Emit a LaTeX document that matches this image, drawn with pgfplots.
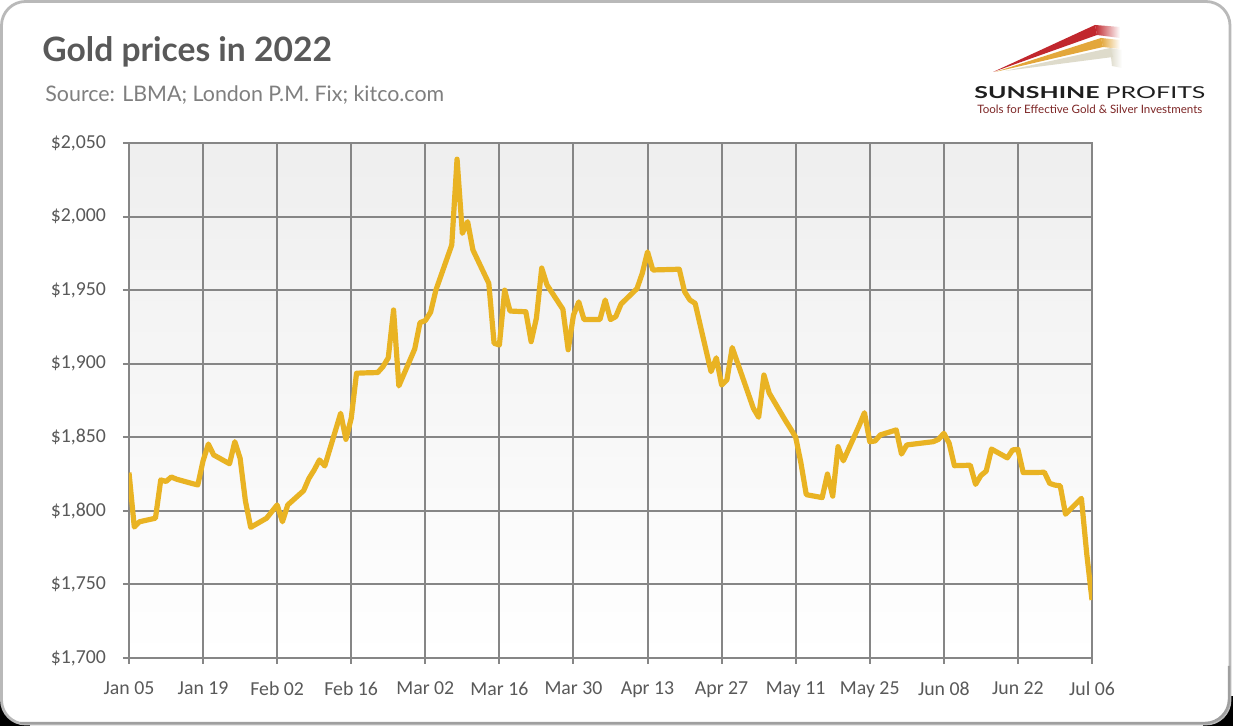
\documentclass[border=0pt]{standalone}
\usepackage{fontspec}
\usepackage{pgfplots}
\usepackage{pgfplotstable}
\pgfplotsset{compat=1.18}
\setmainfont{Lato}
\newfontfamily\calibri{Carlito}
\definecolor{goldline}{RGB}{233,179,35}
\definecolor{gridgray}{RGB}{134,134,134}
\definecolor{labelgray}{RGB}{89,89,89}
\definecolor{subgray}{RGB}{127,127,127}
\definecolor{logored}{RGB}{193,39,45}
\definecolor{logogold}{RGB}{227,167,59}
\definecolor{logogray}{RGB}{222,219,203}
\definecolor{maroon}{RGB}{125,38,38}

\pgfplotstableread{
d p
5 1826
6 1789
7 1792.6
10 1795
11 1821
12 1820
13 1823
14 1821.5
17 1818.5
18 1817.6
19 1834
20 1845.4
21 1838
24 1832
25 1847
26 1835.7
27 1806.7
28 1788.8
31 1795
32 1799.5
33 1804
34 1792.6
35 1804
38 1813.7
39 1822
40 1827.8
41 1834.6
42 1830.5
45 1866.3
46 1848.6
47 1862.9
48 1893.5
49 1893.7
52 1894
53 1898
54 1904
55 1936.5
56 1884.9
59 1910
60 1927.9
61 1929.3
62 1935
63 1950
66 1980.7
67 2039
68 1988.6
69 1996.5
70 1977.3
73 1954.6
74 1913.9
75 1912.7
76 1950
77 1935.8
80 1935.3
81 1915
82 1931
83 1965
84 1953.5
87 1937
88 1909.5
89 1933
90 1942
91 1930
94 1930
95 1943.3
96 1930
97 1932
98 1940.6
101 1951
102 1961.4
103 1976
104 1963.7
109 1964.2
110 1949
111 1943.3
112 1941
115 1894.6
116 1904
117 1885.5
118 1889
119 1911
123 1869.7
124 1863.6
125 1892.3
126 1880
129 1861.7
130 1856
131 1850
132 1832.3
133 1811
136 1809
137 1825
138 1810
139 1843.6
140 1834
143 1858
144 1866.7
145 1847
146 1847.5
147 1851.6
150 1855
151 1838.6
152 1844.8
157 1847
158 1848.6
159 1852.7
160 1846
161 1830.7
164 1831
165 1818
166 1824
167 1827
168 1842
171 1836
172 1841.4
173 1841.8
174 1826
175 1826
178 1826.2
179 1818.7
180 1817.5
181 1817
182 1797.7
185 1808.5
186 1771
187 1739.4
}\golddata

\begin{document}
\begin{tikzpicture}
\begin{scope}[x=0.5pt,y=0.5pt]
  \fill[white] (0,0) rectangle (1233,726);
  \fill[black] (0,0) rectangle (30,30);
  \fill[black] (1203,0) rectangle (1233,30);
  \filldraw[fill=white, draw=gray!55, line width=1.4pt, rounded corners=12pt] (1.5,2) rectangle (1230,724.5);
  \draw[gray!75, line width=1.2pt, rounded corners=12pt] (20,3) -- (1229,3) -- (1229,60);
  % title
  \node[anchor=base west, inner sep=0pt, text=labelgray, font=\fontsize{16.8}{20}\selectfont\bfseries] at (42,664) {Gold prices in 2022};
  \node[anchor=base west, inner sep=0pt, text=subgray, font=\fontsize{10.7}{13}\selectfont] at (45,624) {Source: LBMA; London P.M. Fix; kitco.com};
  % logo swooshes
  \shade[left color=logored, right color=white] (1095,701) -- (1120,699) -- (1120,688) -- (1097,691) -- cycle;
  \fill[logored] (993,654) -- (1095,701) -- (1097,691) -- cycle;
  \shade[left color=logogold, right color=white] (1101,688) -- (1120,686) -- (1120,677) -- (1103,679) -- cycle;
  \fill[logogold] (995,654) -- (1101,688) -- (1103,679) -- cycle;
  \shade[left color=logogray, right color=white] (1110,678) -- (1122,676) -- (1122,658) -- (1112,660) -- cycle;
  \fill[logogray] (1005,655) -- (1110,678) -- (1113,669) -- cycle;
  % logo text
  \node[anchor=base west, inner sep=0pt] at (974,627.3) {\resizebox{115.5pt}{6pt}{\color[RGB]{30,30,30}\bfseries SUNSHINE \mdseries PROFITS}};
  \node[anchor=base west, inner sep=0pt] at (977,612.5) {\resizebox{112.5pt}{!}{\color{maroon}Tools for Effective Gold \& Silver Investments}};
\end{scope}
\begin{axis}[
  at={(64.5pt,34pt)}, anchor=south west,
  scale only axis, width=481.5pt, height=257.5pt,
  xmin=5, xmax=187, ymin=1700, ymax=2050,
  xtick={5,19,33,47,61,75,89,103,117,131,145,159,173,187},
  xticklabels={Jan 05, Jan 19, Feb 02, Feb 16, Mar 02, Mar 16, Mar 30, Apr 13, Apr 27, May 11, May 25, Jun 08, Jun 22, Jul 06},
  ytick={1700,1750,1800,1850,1900,1950,2000,2050},
  yticklabels={{\$1,700},{\$1,750},{\$1,800},{\$1,850},{\$1,900},{\$1,950},{\$2,000},{\$2,050}},
  grid=major,
  major grid style={color=gridgray, line width=1pt},
  axis line style={color=gridgray, line width=1pt},
  tick style={color=gridgray, line width=1pt},
  tick align=outside, major tick length=3pt,
  xtick pos=bottom, ytick pos=left,
  axis background/.style={top color=gray!13, bottom color=white},
  ticklabel style={font=\calibri\fontsize{9.9}{12}\selectfont, text=labelgray},
  yticklabel style={xshift=-5pt},
  xticklabel style={yshift=-5.5pt},
]
\addplot[goldline, line width=2.6pt, line join=round, mark=none] table[x=d, y=p] {\golddata};
\end{axis}
\end{tikzpicture}
\end{document}
